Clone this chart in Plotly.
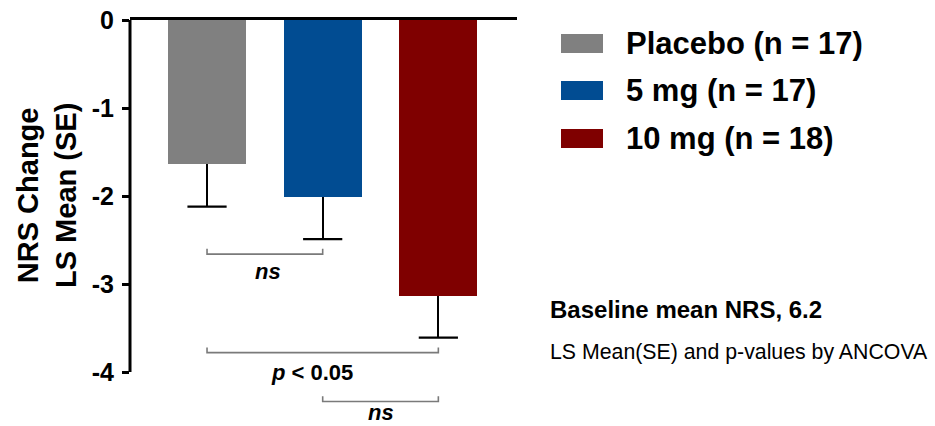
import plotly.graph_objects as go

# ---- data ----
groups = ["Placebo (n = 17)", "5 mg (n = 17)", "10 mg (n = 18)"]
ls_mean = [-1.64, -2.01, -3.14]
se = [0.48, 0.48, 0.47]
bar_colors = ["#808080", "#014C92", "#7F0000"]

tick_vals = [0, -1, -2, -3, -4]
tick_text = ["0", "-1", "-2", "-3", "-4"]

# pairwise comparisons: (group i, group j, bracket level, label)
comp_i = [0, 0, 1]
comp_j = [1, 2, 2]
comp_level = [-2.66, -3.78, -4.335]
comp_label = ["<b><i>ns</i></b>", "<b><i>p</i> < 0.05</b>", "<b><i>ns</i></b>"]
comp_label_y = [-2.855, -4.0, -4.46]
comp_label_dx = [0.03, -0.09, 0.0]

note_bold = "Baseline mean NRS, 6.2"
note_plain = "LS Mean(SE) and p-values by ANCOVA"
y_title = "NRS Change<br>LS Mean (SE)"

# ---- layout geometry ----
W, H = 935, 426
ML, MR, MT, MB = 130, 418, 20, 1
FONT = "Liberation Sans, Arial, sans-serif"


def px_x(p):
    return (p - ML) / (W - ML - MR)


def px_y(p):
    return (H - MB - p) / (H - MT - MB)


x_pos = list(range(len(groups)))
err_end = [m - s for m, s in zip(ls_mean, se)]

fig = go.Figure()
fig.add_trace(go.Bar(
    x=x_pos, y=ls_mean, width=0.6745,
    marker=dict(color=bar_colors, line=dict(width=0)),
    error_y=dict(type="data", symmetric=False,
                 array=[0] * len(se), arrayminus=se,
                 color="black", thickness=2, width=0),
    showlegend=False,
))
# error bar caps (one-sided, at the lower end only)
fig.add_trace(go.Scatter(
    x=x_pos, y=err_end, mode="markers",
    marker=dict(symbol="line-ew", size=28, color="black",
                line=dict(color="black", width=2.2)),
    showlegend=False, hoverinfo="skip", cliponaxis=False,
))

shapes = []
# y axis line from 0 to -4
shapes.append(dict(type="line", xref="paper", yref="y", x0=0, x1=0,
                   y0=tick_vals[0], y1=tick_vals[-1],
                   line=dict(color="black", width=3)))
# comparison brackets
tick_h = 0.06
for i, j, lvl in zip(comp_i, comp_j, comp_level):
    path = (f"M {x_pos[i]},{lvl + tick_h} L {x_pos[i]},{lvl} "
            f"L {x_pos[j]},{lvl} L {x_pos[j]},{lvl + tick_h}")
    shapes.append(dict(type="path", xref="x", yref="y", path=path,
                       line=dict(color="#7A7A7A", width=1.6)))

annotations = []
for i, j, lab, ly, dx in zip(comp_i, comp_j, comp_label, comp_label_y, comp_label_dx):
    annotations.append(dict(x=(x_pos[i] + x_pos[j]) / 2 + dx, y=ly, xref="x", yref="y",
                            text=lab, showarrow=False, xanchor="center", yanchor="middle",
                            font=dict(family=FONT, size=22, color="black")))

# manual legend
row_y = [43.5, 90.5, 138.5]
for g, c, ry in zip(groups, bar_colors, row_y):
    shapes.append(dict(type="rect", xref="paper", yref="paper",
                       x0=px_x(561), x1=px_x(603), y0=px_y(ry + 9.5), y1=px_y(ry - 9.5),
                       fillcolor=c, line=dict(width=0)))
    annotations.append(dict(x=px_x(624), y=px_y(ry), xref="paper", yref="paper",
                            text=f"<b>{g}</b>", showarrow=False,
                            xanchor="left", yanchor="middle",
                            font=dict(family=FONT, size=31, color="black")))

annotations.append(dict(x=px_x(548), y=px_y(309), xref="paper", yref="paper",
                        text=f"<b>{note_bold}</b>", showarrow=False,
                        xanchor="left", yanchor="middle",
                        font=dict(family=FONT, size=24, color="black")))
annotations.append(dict(x=px_x(548), y=px_y(352), xref="paper", yref="paper",
                        text=note_plain, showarrow=False,
                        xanchor="left", yanchor="middle",
                        font=dict(family=FONT, size=21.3, color="black")))

# y axis title
annotations.append(dict(x=px_x(47), y=px_y(196), xref="paper", yref="paper",
                        text=f"<b>{y_title}</b>", textangle=-90, showarrow=False,
                        xanchor="center", yanchor="middle",
                        font=dict(family=FONT, size=29, color="black")))

fig.update_layout(
    width=W, height=H,
    margin=dict(l=ML, r=MR, t=MT, b=MB, pad=0, autoexpand=False),
    paper_bgcolor="white", plot_bgcolor="white",
    shapes=shapes, annotations=annotations,
    bargap=0,
    xaxis=dict(range=[-0.666, 2.680], side="top", showline=True, linecolor="black",
               linewidth=3, showticklabels=False, ticks="", showgrid=False,
               zeroline=False, fixedrange=True),
    yaxis=dict(range=[-4.602, 0], tickvals=tick_vals,
               ticktext=[f"<b>{t}</b>" for t in tick_text],
               ticks="outside", ticklen=7, tickwidth=3, tickcolor="black",
               ticklabelstandoff=3, showline=False, showgrid=False, zeroline=False,
               tickfont=dict(family=FONT, size=25, color="black", weight="bold"),
               automargin=False, fixedrange=True),
    font=dict(family=FONT),
)

fig.write_html("out.html", config={"displayModeBar": False})
